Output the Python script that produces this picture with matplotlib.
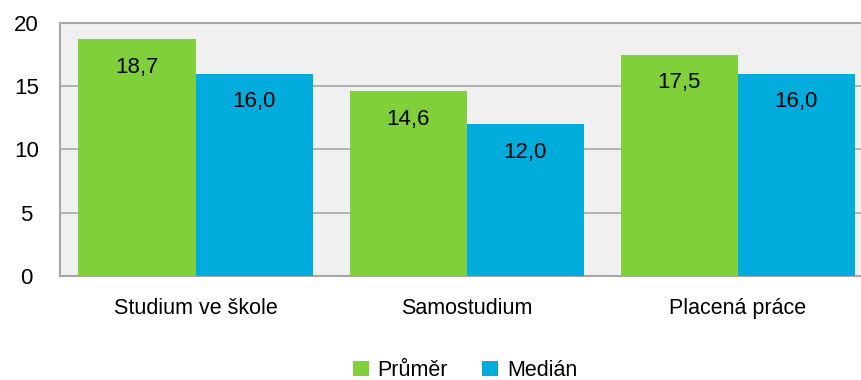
import matplotlib
matplotlib.use('Agg')
import matplotlib.pyplot as plt
import numpy as np

plt.rcParams['font.family'] = ['Liberation Sans', 'DejaVu Sans']

categories = ['Studium ve škole', 'Samostudium', 'Placená práce']
prumer = [18.7, 14.6, 17.5]
median = [16.0, 12.0, 16.0]
series_names = ['Průměr', 'Medián']
green = '#80d03c'
blue = '#00acdc'

fig = plt.figure(figsize=(8.61, 3.8), dpi=100)
ax = fig.add_axes([0.0697, 0.2737, 0.9445, 0.6658])
ax.set_facecolor('#f0f0f0')

x = np.arange(len(categories))
w = 0.432
b1 = ax.bar(x - w/2, prumer, w, color=green, label=series_names[0], zorder=3)
b2 = ax.bar(x + w/2, median, w, color=blue, label=series_names[1], zorder=3)

for bars, vals in ((b1, prumer), (b2, median)):
    for r, v in zip(bars, vals):
        ax.text(r.get_x() + r.get_width()/2, v - 2.2, f'{v:.1f}'.replace('.', ','),
                ha='center', va='center', fontsize=16, zorder=4)

ax.set_xlim(-0.5, 2.5)
ax.set_ylim(0, 20)
ax.set_yticks([0, 5, 10, 15, 20])
ax.set_xticks(x)
ax.set_xticklabels(categories, fontsize=15.5)
ax.tick_params(axis='y', labelsize=16, length=0, pad=24)
ax.tick_params(axis='x', length=0, pad=16)
for lab in ax.get_yticklabels():
    lab.set_horizontalalignment('center')
ax.grid(axis='y', color='#a6a6a6', linewidth=1.2, zorder=1)
for s in ax.spines.values():
    s.set_color('#a6a6a6')
    s.set_linewidth(1.5)

fig.legend(handles=[b1, b2], loc='center', bbox_to_anchor=(0.54, 0.025),
           ncol=2, frameon=False, fontsize=15.5, handlelength=0.75,
           handleheight=0.75, handletextpad=0.4, columnspacing=1.6)

fig.savefig('out.png', dpi=100)
